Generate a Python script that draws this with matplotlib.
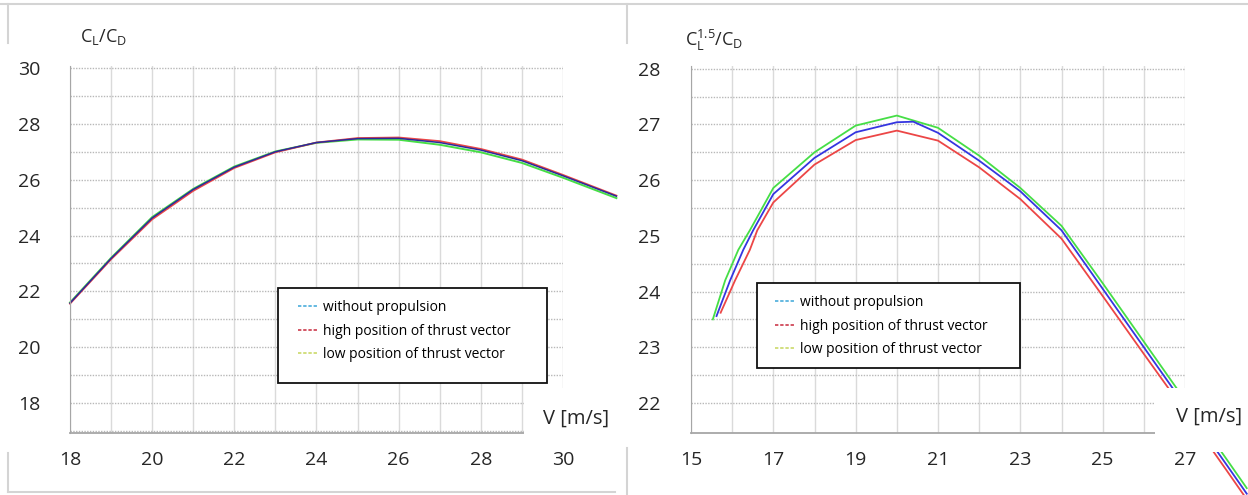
import matplotlib.pyplot as plt
from matplotlib.lines import Line2D
from matplotlib.patches import Rectangle

plt.rcParams['font.family'] = ['Open Sans', 'DejaVu Sans']
plt.rcParams['mathtext.fontset'] = 'custom'
plt.rcParams['mathtext.rm'] = 'Open Sans'
plt.rcParams['mathtext.default'] = 'regular'

W, H = 1248, 495

# ---- left chart: C_L/C_D over V ----
v_left = [18, 19, 20, 21, 22, 23, 24, 25, 26, 27, 28, 29, 30, 31.3]
ld_without = [21.58, 23.18, 24.63, 25.65, 26.45, 27.00, 27.33, 27.47, 27.48, 27.33, 27.06, 26.68, 26.14, 25.41]
ld_high = [21.56, 23.15, 24.58, 25.60, 26.42, 26.98, 27.33, 27.49, 27.51, 27.38, 27.10, 26.72, 26.17, 25.43]
ld_low = [21.60, 23.20, 24.66, 25.67, 26.47, 27.01, 27.32, 27.44, 27.43, 27.25, 26.98, 26.60, 26.07, 25.34]

# ---- right chart: C_L^1.5/C_D over V ----
v_without = [15.62, 15.95, 16.27, 16.51, 17, 18, 19, 20, 20.4, 21, 22, 23, 24, 25, 26, 27, 28, 28.5]
pf_without = [23.56, 24.20, 24.75, 25.10, 25.75, 26.40, 26.86, 27.04, 27.05, 26.85, 26.35, 25.80, 25.10, 24.05, 23.00, 21.95, 20.90, 20.37]
v_high = [15.72, 16.07, 16.43, 16.61, 17, 18, 19, 20, 21, 22, 23, 24, 25, 26, 27, 28, 28.5]
pf_high = [23.62, 24.20, 24.75, 25.10, 25.60, 26.28, 26.72, 26.89, 26.71, 26.23, 25.66, 24.95, 23.92, 22.88, 21.85, 20.80, 20.27]
v_low = [15.53, 15.83, 16.15, 16.43, 17, 18, 19, 20, 21, 22, 23, 24, 25, 26, 27, 28, 28.5]
pf_low = [23.50, 24.20, 24.75, 25.10, 25.86, 26.50, 26.98, 27.16, 26.94, 26.44, 25.86, 25.18, 24.15, 23.10, 22.05, 21.00, 20.47]

labels = ['without propulsion', 'high position of thrust vector', 'low position of thrust vector']
legend_colors = ['#3aa6d8', '#c8283c', '#c6d65c']
curve_colors = {'without': '#3535e0', 'high': '#ec4646', 'low': '#46de46'}


def fx(x):
    return x / W


def fy(y):
    return 1 - y / H


fig = plt.figure(figsize=(W / 100, H / 100), dpi=100)

ax1 = fig.add_axes([fx(70), fy(433), fx(563) - fx(70), fy(66) - fy(433)])
ax2 = fig.add_axes([fx(691), fy(433), fx(1185) - fx(691), fy(66) - fy(433)])

for ax in (ax1, ax2):
    for s in ('top', 'right'):
        ax.spines[s].set_visible(False)
    ax.spines['left'].set_color('#a6a6a6')
    ax.spines['bottom'].set_color('#a6a6a6')
    ax.spines['bottom'].set_linewidth(1.3)
    ax.xaxis.grid(True, which='both', color='#dadada', lw=1, ls='-')
    ax.yaxis.grid(True, which='both', color='#b8b8b8', lw=1, ls=(0, (1, 1)))
    ax.set_axisbelow(True)
    ax.tick_params(which='both', length=0, labelsize=14, labelcolor='#262626')
    ax.tick_params(axis='x', pad=13)

# left
ax1.set_xlim(18, 30)
ax1.set_ylim(16.93, 30.07)
ax1.set_xticks(range(18, 31, 2))
ax1.set_xticks(range(18, 31), minor=True)
ax1.set_yticks(range(18, 31, 2))
ax1.set_yticks(range(17, 31), minor=True)
ax1.tick_params(axis='y', pad=21)
ax1.plot(v_left, ld_low, color=curve_colors['low'], lw=1.4, clip_on=False)
ax1.plot(v_left, ld_high, color=curve_colors['high'], lw=1.3, clip_on=False)
ax1.plot(v_left, ld_without, color='#2a2a9c', lw=1.1, clip_on=False)

# right
ax2.set_xlim(15, 27)
ax2.set_ylim(21.46, 28.05)
ax2.set_xticks(range(15, 28, 2))
ax2.set_xticks(range(15, 28), minor=True)
ax2.set_yticks(range(22, 29))
ax2.set_yticks([22 + 0.5 * i for i in range(13)], minor=True)
ax2.tick_params(axis='y', pad=22)
ax2.plot(v_low, pf_low, color=curve_colors['low'], lw=1.3, clip_on=False)
ax2.plot(v_without, pf_without, color=curve_colors['without'], lw=1.3, clip_on=False)
ax2.plot(v_high, pf_high, color=curve_colors['high'], lw=1.3, clip_on=False)

# axis titles
fig.text(fx(80), fy(37), '$C_L/C_D$', ha='left', va='center', fontsize=13, color='#262626')
fig.text(fx(685), fy(40), '$C_L^{1.5}/C_D$', ha='left', va='center', fontsize=13, color='#262626')

# white boxes with the V label
for (x0, x1), cx, cy in [((524, 614), 576, 419), ((1155, 1248), 1209, 417)]:
    fig.add_artist(Rectangle((fx(x0), fy(452)), fx(x1) - fx(x0), fy(388) - fy(452),
                             transform=fig.transFigure, facecolor='white', edgecolor='none', zorder=5))
    fig.text(fx(cx), fy(cy), 'V [m/s]', ha='center', va='center', fontsize=14.5, color='#262626', zorder=6)

# legends
handles = [Line2D([], [], color=c, lw=1.1, ls=(0, (2.2, 1.2))) for c in legend_colors]
for (x0, y0, x1, y1), (hx, hy) in [((278, 288, 547, 383), (298, 300)), ((757, 283, 1020, 368), (775, 295))]:
    fig.add_artist(Rectangle((fx(x0), fy(y1)), fx(x1) - fx(x0), fy(y0) - fy(y1),
                             transform=fig.transFigure, facecolor='white', edgecolor='#111111', lw=1.3, zorder=5))
    fig.legend(handles, labels, loc='upper left', bbox_to_anchor=(fx(hx), fy(hy)),
               bbox_transform=fig.transFigure, frameon=False, fontsize=10, borderpad=0,
               handlelength=1.45, handletextpad=0.35, labelspacing=0.62, borderaxespad=0).set_zorder(6)

# panel borders
border = dict(color='#d4d4d4', lw=1.5, transform=fig.transFigure)
fig.add_artist(Line2D([0, 1], [fy(4), fy(4)], **border))
fig.add_artist(Line2D([fx(8), fx(8)], [fy(4), fy(43)], **border))
fig.add_artist(Line2D([fx(8), fx(8)], [fy(453), fy(492)], **border))
fig.add_artist(Line2D([fx(8), fx(615)], [fy(492), fy(492)], **border))
fig.add_artist(Line2D([fx(627), fx(627)], [fy(4), fy(43)], **border))
fig.add_artist(Line2D([fx(627), fx(627)], [fy(448), fy(495)], **border))

fig.savefig('out.png', dpi=100, facecolor='white')
